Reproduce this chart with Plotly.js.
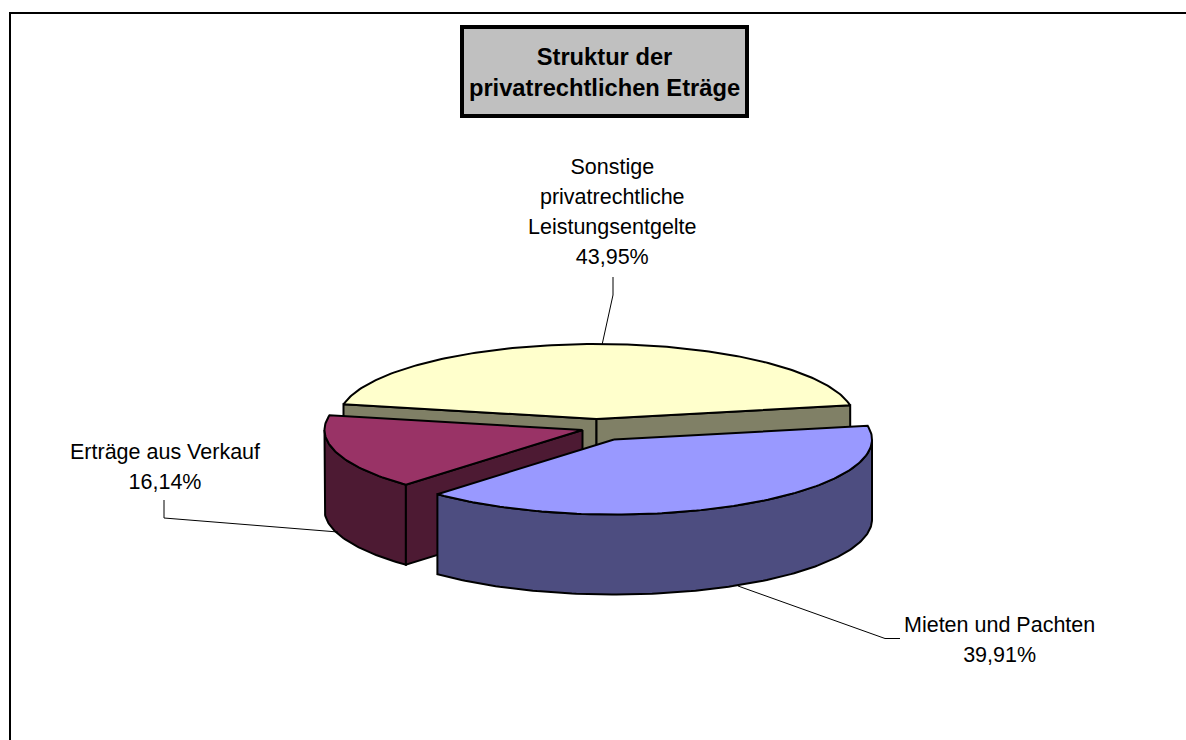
<!DOCTYPE html>
<html>
<head>
<meta charset="utf-8">
<script src="https://cdn.plot.ly/plotly-3.0.1.min.js"></script>
<style>html,body{margin:0;padding:0;background:#fff}#chart{width:1186px;height:740px}</style>
</head>
<body>
<div id="chart"></div>
<script>
// Data
var categories = ["Sonstige<br>privatrechtliche<br>Leistungsentgelte", "Mieten und Pachten", "Erträge aus Verkauf"];
var values = [43.95, 39.91, 16.14];
var chartTitle = "<b>Struktur der<br>privatrechtlichen Eträge</b>";
var topColors = ["#ffffcc", "#9999ff", "#993366"];
var wallColors = ["#808066", "#4d4d80", "#4d1a33"];

// Projection of the tilted pie on the axes
var cx = 596.5, cy = 419, rx = 258, ry = 75, depth = 80;
var startAngle = 168.7;
var explode = [[0, 0], [17.5, 20.5], [-14, 11]];

function pt(i, deg, dz) {
  var a = deg * Math.PI / 180;
  return [cx + explode[i][0] + rx * Math.cos(a), cy + explode[i][1] - ry * Math.sin(a) + (dz || 0)];
}
function arc(i, from, to, dz) {
  var n = Math.max(2, Math.ceil(Math.abs(to - from))), out = [];
  for (var k = 0; k <= n; k++) out.push(pt(i, from + (to - from) * k / n, dz));
  return out;
}
function apex(i, dz) { return [cx + explode[i][0], cy + explode[i][1] + (dz || 0)]; }
function poly(name, pts, color) {
  var closed = pts.concat([pts[0]]);
  return {
    type: "scatter", mode: "lines", name: name, fill: "toself", fillcolor: color,
    x: closed.map(function (p) { return p[0]; }),
    y: closed.map(function (p) { return p[1]; }),
    line: { color: "#000000", width: 2, shape: "linear" },
    hoverinfo: "skip", showlegend: false
  };
}
// Slice angles from the values
var total = values.reduce(function (s, v) { return s + v; }, 0), a0 = startAngle, spans = [];
values.forEach(function (v) { var a1 = a0 - v / total * 360; spans.push([a0, a1]); a0 = a1; });

function cutWall(i, deg, color) {
  return poly("wall", [apex(i), pt(i, deg), pt(i, deg, depth), apex(i, depth)], color);
}
function outerWall(i, from, to, color) {
  return poly("wall", arc(i, from, to).concat(arc(i, to, from, depth)), color);
}
function topFace(i, color) {
  return poly(categories[i], [apex(i)].concat(arc(i, spans[i][0], spans[i][1])), color);
}
var traces = [
  cutWall(0, spans[0][0], wallColors[0]),
  cutWall(0, spans[0][1], wallColors[0]),
  topFace(0, topColors[0]),
  outerWall(2, spans[2][0], -180, wallColors[2]),
  cutWall(2, spans[2][0], wallColors[2]),
  topFace(2, topColors[2]),
  outerWall(1, 0, spans[1][1], wallColors[1]),
  topFace(1, topColors[1])
];
// Leader lines
function leader(xs, ys, w) {
  return { type: "scatter", mode: "lines", x: xs, y: ys, line: { color: "#000", width: w || 1 }, hoverinfo: "skip", showlegend: false };
}
traces.push(leader([613, 613, 602], [277, 295, 345]));
traces.push(leader([738, 885, 900], [586, 638.5, 638.5]));
traces.push(leader([164, 164, 338], [500, 518, 532]));

function pct(v) { return v.toFixed(2).replace(".", ",") + "%"; }
// outer size sets the 30px line pitch, inner span sets the glyph size
var labelFont = { family: "Liberation Sans, Arial, sans-serif", size: 23, color: "#000" };
function label(i, x, y) {
  return { text: '<span style="font-size:21.5px">' + categories[i].split("<br>").concat([pct(values[i])]).join('</span><br><span style="font-size:21.5px">') + "</span>",
    x: x, y: y, xref: "x", yref: "y",
    showarrow: false, align: "center", font: labelFont, xanchor: "center", yanchor: "middle" };
}
var layout = {
  width: 1186, height: 740, autosize: false,
  margin: { l: 0, r: 0, t: 0, b: 0 },
  paper_bgcolor: "#fff", plot_bgcolor: "#fff", showlegend: false,
  xaxis: { range: [0, 1186], visible: false, fixedrange: true },
  yaxis: { range: [740, 0], visible: false, fixedrange: true },
  title: { text: chartTitle, x: 604.5 / 1186, xanchor: "center", xref: "paper", y: 1 - 65 / 740, yanchor: "middle", yref: "paper",
    font: { family: "Liberation Sans, Arial, sans-serif", size: 23.7, color: "#000" } },
  shapes: [
    { type: "path", xref: "x", yref: "y", path: "M 10 740 L 10 13 L 1186 13", line: { color: "#000", width: 2 }, layer: "below" },
    { type: "rect", xref: "x", yref: "y", x0: 462, x1: 747, y0: 27, y1: 116, line: { color: "#000", width: 4 }, fillcolor: "#c0c0c0", layer: "below" }
  ],
  annotations: [label(0, 612.5, 212), label(1, 999, 640), label(2, 165, 467)]
};
Plotly.newPlot("chart", traces, layout, { displayModeBar: false, staticPlot: true });
</script>
</body>
</html>
